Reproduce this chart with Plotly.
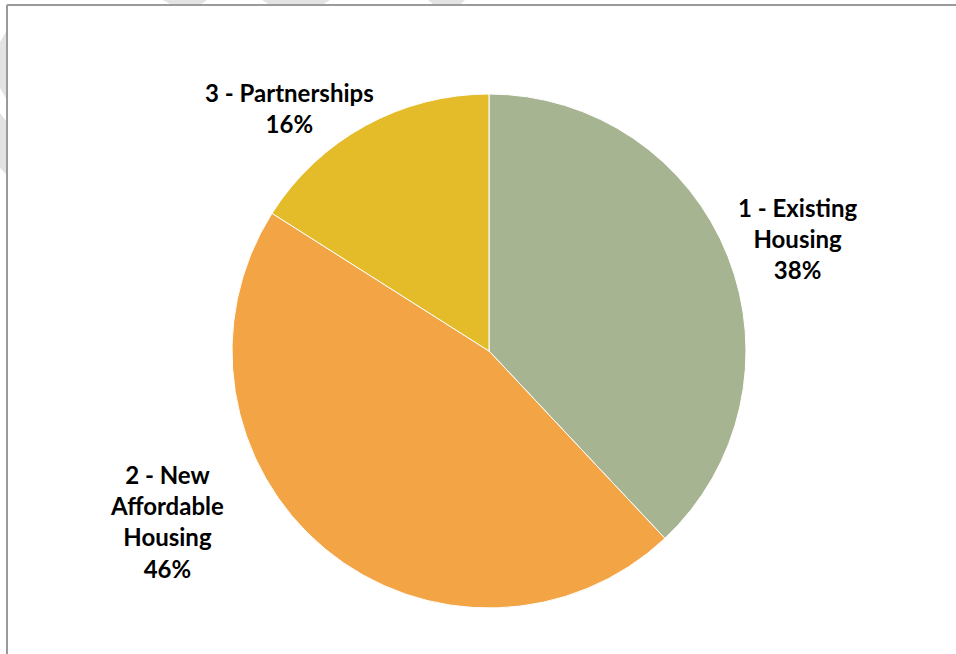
import plotly.graph_objects as go

categories = ["1 - Existing Housing", "2 - New Affordable Housing", "3 - Partnerships"]
shares = [38, 46, 16]
colors = ["#A7B491", "#F3A546", "#E4BC2A"]
label_lines = ["1 - Existing<br>Housing", "2 - New<br>Affordable<br>Housing", "3 - Partnerships"]

W, H = 956, 654
cx, cy, r = 489, 351, 257

fig = go.Figure(go.Pie(
    labels=categories,
    values=shares,
    sort=False,
    direction="clockwise",
    rotation=0,
    marker=dict(colors=colors, line=dict(color="#FFFFFF", width=1)),
    textinfo="none",
    hoverinfo="label+percent",
    showlegend=False,
    domain=dict(x=[(cx - r) / W, (cx + r) / W],
                y=[(H - cy - r) / H, (H - cy + r) / H]),
))

# label anchor positions (pixels)
label_pos = [(797, 238), (167, 521), (289, 108)]
annotations = []
for txt, v, (lx, ly) in zip(label_lines, shares, label_pos):
    annotations.append(dict(
        x=lx / W, y=1 - ly / H, xref="paper", yref="paper",
        text=f"<b>{txt}<br>{v}%</b>", showarrow=False,
        xanchor="center", yanchor="middle", align="center",
        font=dict(family="Lato", size=24, color="#000000"),
    ))

def px(x, y):
    return x / W, 1 - y / H

shapes = []
# faint watermark fragments
wm = "#E3E3E3"
for poly in [
    [(163, 0), (207, 0), (200, 5), (172, 5)],
    [(262, 0), (330, 0), (322, 5), (270, 5)],
    [(428, 0), (465, 0), (460, 5), (434, 5)],
    [(0, 42), (7, 30), (7, 100), (0, 88)],
    [(0, 113), (7, 122), (7, 175), (0, 168)],
]:
    path = "M " + " L ".join(f"{px(x, y)[0]},{px(x, y)[1]}" for x, y in poly) + " Z"
    shapes.append(dict(type="path", path=path, xref="paper", yref="paper",
                       fillcolor=wm, line=dict(width=0), layer="below"))
# chart border (top and left visible)
shapes.append(dict(type="line", xref="paper", yref="paper",
                   x0=7 / W, x1=1, y0=1 - 5 / H, y1=1 - 5 / H,
                   line=dict(color="#9A9A9A", width=2)))
shapes.append(dict(type="line", xref="paper", yref="paper",
                   x0=7 / W, x1=7 / W, y0=1 - 5 / H, y1=0,
                   line=dict(color="#9A9A9A", width=2)))

fig.update_layout(
    width=W, height=H,
    margin=dict(l=0, r=0, t=0, b=0),
    paper_bgcolor="#FFFFFF",
    plot_bgcolor="#FFFFFF",
    annotations=annotations,
    shapes=shapes,
)

fig.write_html("out.html", config={"displayModeBar": False},
               post_script="document.body.style.margin='0';document.body.style.overflow='hidden';")
